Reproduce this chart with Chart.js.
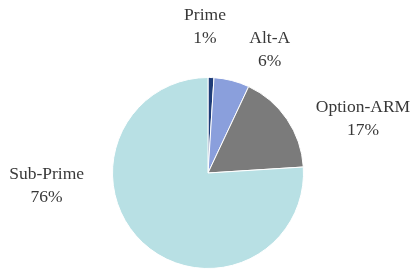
<!DOCTYPE html>
<html>
<head>
<meta charset="utf-8">
<script src="https://cdn.jsdelivr.net/npm/chart.js@4/dist/chart.umd.min.js"></script>
<style>
  html, body { margin: 0; padding: 0; background: #fff; }
  #wrap { width: 416px; height: 270px; }
</style>
</head>
<body>
<div id="wrap"><canvas id="myChart" width="416" height="270"></canvas></div>
<script>
const categories = ['Prime', 'Alt-A', 'Option-ARM', 'Sub-Prime'];
const shares = [1, 6, 17, 76];
const percentLabels = ['1%', '6%', '17%', '76%'];
const sliceColors = ['#1e3c78', '#8a9fdc', '#7b7b7b', '#b8e0e4'];

// where each label sits relative to the outer edge of its slice
const labelNudge = [
    { dx: -6, dy: -51 },
    { dx: 38, dy: -31 },
    { dx: 76, dy: 0 },
    { dx: -96, dy: -57 }
];

const outsideLabels = {
    id: 'outsideLabels',
    afterDatasetsDraw(chart) {
        const ctx = chart.ctx;
        const arcs = chart.getDatasetMeta(0).data;
        ctx.save();
        ctx.fillStyle = '#383838';
        ctx.font = '17.5px "Liberation Serif", serif';
        ctx.textAlign = 'center';
        ctx.textBaseline = 'middle';
        arcs.forEach((arc, i) => {
            const p = arc.getProps(['x', 'y', 'startAngle', 'endAngle', 'outerRadius'], true);
            const mid = (p.startAngle + p.endAngle) / 2;
            const x = p.x + Math.cos(mid) * p.outerRadius + labelNudge[i].dx;
            const y = p.y + Math.sin(mid) * p.outerRadius + labelNudge[i].dy;
            ctx.fillText(categories[i], x, y - 11.5);
            ctx.fillText(percentLabels[i], x, y + 11.5);
        });
        ctx.restore();
    }
};

const ctx = document.getElementById('myChart').getContext('2d');
const myChart = new Chart(ctx, {
    type: 'pie',
    data: {
        labels: categories,
        datasets: [{
            data: shares,
            backgroundColor: sliceColors,
            borderColor: '#ffffff',
            borderWidth: 1
        }]
    },
    options: {
        responsive: false,
        animation: false,
        layout: { padding: { top: 77, bottom: 1, left: 0, right: 0 } },
        plugins: {
            legend: { display: false },
            tooltip: { enabled: false }
        }
    },
    plugins: [outsideLabels]
});
</script>
</body>
</html>
